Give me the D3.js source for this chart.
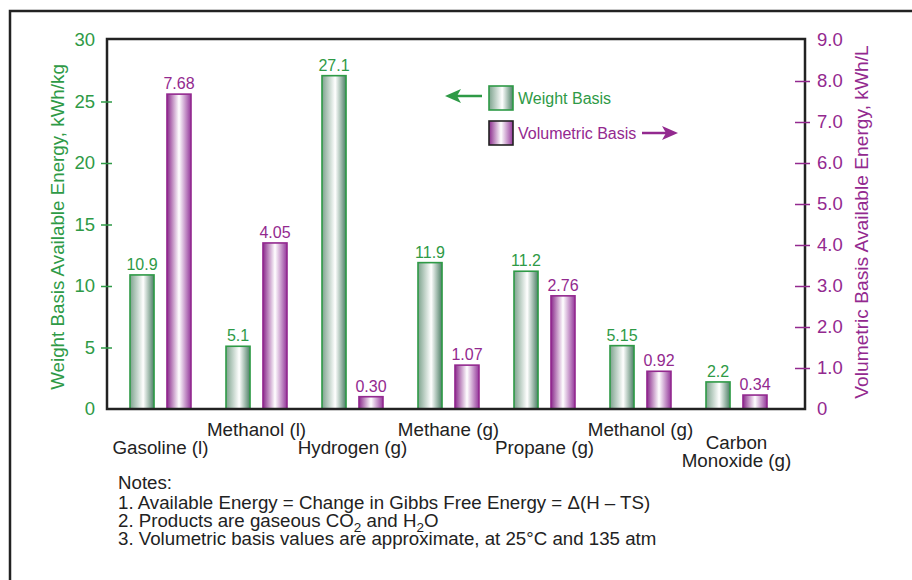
<!DOCTYPE html>
<html>
<head>
<meta charset="utf-8">
<script src="https://cdn.jsdelivr.net/npm/d3@7"></script>
<style>
  html, body { margin: 0; padding: 0; background: #fff; }
  svg { display: block; font-family: "Liberation Sans", Arial, Helvetica, sans-serif; }
</style>
</head>
<body>
<svg id="chart" width="912" height="580"></svg>
<script>
// ---- data ----
const categories = ["Gasoline (l)", "Methanol (l)", "Hydrogen (g)", "Methane (g)", "Propane (g)", "Methanol (g)", "Carbon\nMonoxide (g)"];
const weightBasis = [10.9, 5.1, 27.1, 11.9, 11.2, 5.15, 2.2];          // kWh/kg
const volumetricBasis = [7.68, 4.05, 0.30, 1.07, 2.76, 0.92, 0.34];    // kWh/L
const leftTicks = [0, 5, 10, 15, 20, 25, 30];
const rightTicks = [0, 1, 2, 3, 4, 5, 6, 7, 8, 9];
const seriesNames = ["Weight Basis", "Volumetric Basis"];
const notes = [
  "Notes:",
  "1. Available Energy = Change in Gibbs Free Energy = \u0394(H \u2013 TS)",
  "2. Products are gaseous CO|2| and H|2|O",
  "3. Volumetric basis values are approximate, at 25\u00B0C and 135 atm"
];

// ---- styles ----
const GREEN = "#2e9a46", PURPLE = "#93298f", DARK = "#222";
const svg = d3.select("#chart");
const plot = { left: 107, right: 805, top: 39, bottom: 409 };

// gradients
const defs = svg.append("defs");
function grad(id, stops) {
  const g = defs.append("linearGradient").attr("id", id).attr("x1", "0%").attr("x2", "100%").attr("y1", "0%").attr("y2", "0%");
  stops.forEach(s => g.append("stop").attr("offset", s[0]).attr("stop-color", s[1]));
}
grad("gGreen", [["0%", "#7ea38e"], ["55%", "#ffffff"], ["100%", "#4d7f66"]]);
grad("gPurple", [["0%", "#8a2a8c"], ["50%", "#ffffff"], ["100%", "#94379a"]]);

// outer frame
svg.append("path").attr("d", "M10,580 V11 H912").attr("fill", "none").attr("stroke", DARK).attr("stroke-width", 2.5);

// scales
const x0 = d3.scaleBand().domain(categories).range([112.5, 784.5]).padding(0);
const x1 = d3.scaleBand().domain(seriesNames).range([17.5, 78.5]).paddingInner(0.35).paddingOuter(0);
const yL = d3.scaleLinear().domain([0, 30]).range([plot.bottom, 40]);
const yR = d3.scaleLinear().domain([0, 9]).range([plot.bottom, 40]);

// bars
const groups = svg.append("g").selectAll("g").data(categories).join("g")
  .attr("transform", d => `translate(${x0(d)},0)`);

groups.append("rect")
  .attr("x", x1(seriesNames[0])).attr("width", x1.bandwidth())
  .attr("y", (d, i) => yL(weightBasis[i])).attr("height", (d, i) => yL(0) - yL(weightBasis[i]))
  .attr("fill", "url(#gGreen)").attr("stroke", GREEN).attr("stroke-width", 1.6);
groups.append("rect")
  .attr("x", x1(seriesNames[1])).attr("width", x1.bandwidth())
  .attr("y", (d, i) => yR(volumetricBasis[i])).attr("height", (d, i) => yR(0) - yR(volumetricBasis[i]))
  .attr("fill", "url(#gPurple)").attr("stroke", PURPLE).attr("stroke-width", 1.6);

groups.append("text")
  .attr("x", x1(seriesNames[0]) + x1.bandwidth() / 2)
  .attr("y", (d, i) => yL(weightBasis[i]) - 5)
  .attr("text-anchor", "middle").attr("font-size", 16).attr("fill", GREEN)
  .text((d, i) => String(weightBasis[i]));
groups.append("text")
  .attr("x", x1(seriesNames[1]) + x1.bandwidth() / 2)
  .attr("y", (d, i) => yR(volumetricBasis[i]) - 5)
  .attr("text-anchor", "middle").attr("font-size", 16).attr("fill", PURPLE)
  .text((d, i) => volumetricBasis[i].toFixed(2));

// plot frame
svg.append("rect").attr("x", plot.left).attr("y", plot.top)
  .attr("width", plot.right - plot.left).attr("height", plot.bottom - plot.top)
  .attr("fill", "none").attr("stroke", DARK).attr("stroke-width", 2.5);

// left axis
const axL = svg.append("g").attr("transform", `translate(${plot.left},0)`)
  .call(d3.axisLeft(yL).tickValues(leftTicks).tickSize(0).tickPadding(12).tickFormat(d3.format("d")));
axL.select(".domain").remove();
axL.selectAll(".tick text").attr("font-size", 18.5).attr("fill", GREEN).attr("font-family", null);
axL.selectAll(".tick").filter(d => d !== 0 && d !== 30).select("line")
  .attr("x1", -6).attr("x2", 5).attr("stroke", GREEN).attr("stroke-width", 1.5);

// right axis
const axR = svg.append("g").attr("transform", `translate(${plot.right},0)`)
  .call(d3.axisRight(yR).tickValues(rightTicks).tickSize(0).tickPadding(12).tickFormat(d => d === 0 ? "0" : d.toFixed(1)));
axR.select(".domain").remove();
axR.selectAll(".tick text").attr("font-size", 18.5).attr("fill", PURPLE).attr("font-family", null);
axR.selectAll(".tick").filter(d => d !== 0 && d !== 9).select("line")
  .attr("x1", -10).attr("x2", 5).attr("stroke", PURPLE).attr("stroke-width", 1.5);

// axis titles
svg.append("text").attr("transform", "translate(64,227) rotate(-90)")
  .attr("text-anchor", "middle").attr("font-size", 18.8).attr("fill", GREEN)
  .text("Weight Basis Available Energy, kWh/kg");
svg.append("text").attr("transform", "translate(868,222) rotate(-90)")
  .attr("text-anchor", "middle").attr("font-size", 19.2).attr("fill", PURPLE)
  .text("Volumetric Basis Available Energy, kWh/L");

// category labels (staggered)
const catG = svg.append("g").attr("font-size", 18.8).attr("fill", DARK);
categories.forEach((c, i) => {
  const lines = c.split("\n");
  const cx = x0(c) + x0.bandwidth() / 2;
  const t = catG.append("text").attr("text-anchor", "middle");
  if (lines.length > 1) {
    lines.forEach((ln, k) => t.append("tspan").attr("x", cx).attr("y", 449 + k * 17.5).text(ln));
  } else {
    t.attr("x", cx).attr("y", i % 2 === 0 ? 454 : 436).text(c);
  }
});

// legend
const lg = svg.append("g");
lg.append("rect").attr("x", 489).attr("y", 86).attr("width", 24).attr("height", 24)
  .attr("fill", "url(#gGreen)").attr("stroke", GREEN).attr("stroke-width", 1.6);
lg.append("rect").attr("x", 489).attr("y", 121).attr("width", 24).attr("height", 24)
  .attr("fill", "url(#gPurple)").attr("stroke", DARK).attr("stroke-width", 1.6);
lg.append("text").attr("x", 518).attr("y", 98).attr("dy", "0.35em").attr("font-size", 16).attr("fill", GREEN).text(seriesNames[0]);
lg.append("text").attr("x", 518).attr("y", 133).attr("dy", "0.35em").attr("font-size", 16).attr("fill", PURPLE).text(seriesNames[1]);
// arrows
lg.append("line").attr("x1", 455).attr("x2", 482).attr("y1", 96).attr("y2", 96).attr("stroke", GREEN).attr("stroke-width", 2.5);
lg.append("path").attr("d", "M445,96 L461,89 L457,96 L461,103 Z").attr("fill", GREEN);
lg.append("line").attr("x1", 642).attr("x2", 668).attr("y1", 133).attr("y2", 133).attr("stroke", PURPLE).attr("stroke-width", 2.5);
lg.append("path").attr("d", "M678,133 L662,126 L666,133 L662,140 Z").attr("fill", PURPLE);

// notes
const ng = svg.append("g").attr("font-size", 18.7).attr("fill", DARK);
const noteY = [489, 508.5, 527, 545];
notes.forEach((n, i) => {
  const t = ng.append("text").attr("x", 118).attr("y", noteY[i]);
  const parts = n.split("|");
  parts.forEach((p, k) => {
    if (k % 2 === 1) {
      t.append("tspan").attr("dy", 5).attr("font-size", 13.5).text(p);
    } else {
      const s = t.append("tspan").text(p);
      if (k > 0) s.attr("dy", -5);
    }
  });
});
</script>
</body>
</html>
